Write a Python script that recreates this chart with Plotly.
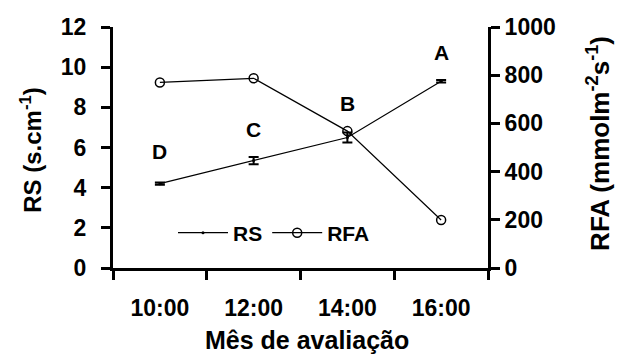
import plotly.graph_objects as go

hours = ["10:00", "12:00", "14:00", "16:00"]
rs = [4.2, 5.35, 6.5, 9.3]
rs_err = [0.06, 0.18, 0.25, 0.06]
rfa = [770, 787, 568, 199]
letters = ["D", "C", "B", "A"]
letter_y = [5.8, 6.9, 8.2, 10.75]

FONT = "Liberation Sans, Arial, sans-serif"

fig = go.Figure()
fig.add_trace(go.Scatter(
    x=hours, y=rs, name="RS", mode="lines+markers",
    line=dict(color="black", width=1.2),
    marker=dict(symbol="circle", size=3, color="black"),
    error_y=dict(type="data", array=rs_err, color="black", thickness=2, width=5),
))
fig.add_trace(go.Scatter(
    x=hours, y=rfa, name="RFA", mode="lines+markers", yaxis="y2",
    line=dict(color="black", width=1.2),
    marker=dict(symbol="circle-open", size=9, color="black", line=dict(width=1.5)),
))

for h, l, ly in zip(hours, letters, letter_y):
    fig.add_annotation(x=h, y=ly, text=l, showarrow=False, xref="x", yref="y",
                       font=dict(family=FONT, size=21, color="black", weight="bold"))

axis_common = dict(showline=True, linewidth=3, linecolor="black", ticks="outside",
                   ticklen=9, tickwidth=3, tickcolor="black", showgrid=False, zeroline=False,
                   automargin=False,
                   tickfont=dict(family=FONT, size=23, color="black", weight="bold"))

fig.update_layout(
    width=617, height=355,
    margin=dict(l=113, r=129, t=27, b=87),
    paper_bgcolor="white", plot_bgcolor="white",
    showlegend=True,
    legend=dict(orientation="h", x=0.16, y=0.145, xanchor="left", yanchor="middle",
                bgcolor="rgba(0,0,0,0)",
                font=dict(family=FONT, size=21, color="black", weight="bold"),
                itemwidth=50, tracegroupgap=0),
    xaxis=dict(type="category", range=[-0.5, 3.5], tickson="boundaries",
               ticklabelstandoff=17, **axis_common),
    yaxis=dict(range=[0, 12], tickvals=[0, 2, 4, 6, 8, 10, 12], ticklabelstandoff=10,
               **axis_common),
    yaxis2=dict(range=[0, 1000], tickvals=[0, 200, 400, 600, 800, 1000], overlaying="y",
                side="right", **axis_common),
)

fig.add_annotation(x=-0.219, y=0.49, xref="paper", yref="paper", text="RS (s.cm<sup>-1</sup>)",
                   textangle=-90, showarrow=False,
                   font=dict(family=FONT, size=24, color="black", weight="bold"),
                   xanchor="center", yanchor="middle")
fig.add_annotation(x=1.296, y=0.515, xref="paper", yref="paper",
                   text="RFA (mmolm<sup>-2</sup>s<sup>-1</sup>)",
                   textangle=-90, showarrow=False,
                   font=dict(family=FONT, size=26, color="black", weight="bold"),
                   xanchor="center", yanchor="middle")
fig.add_annotation(x=0.517, y=-0.297, xref="paper", yref="paper", text="Mês de avaliação",
                   showarrow=False, font=dict(family=FONT, size=25, color="black", weight="bold"),
                   xanchor="center", yanchor="middle")

fig.write_html("out.html", config={"displayModeBar": False},
               post_script="document.body.style.margin='0';")
